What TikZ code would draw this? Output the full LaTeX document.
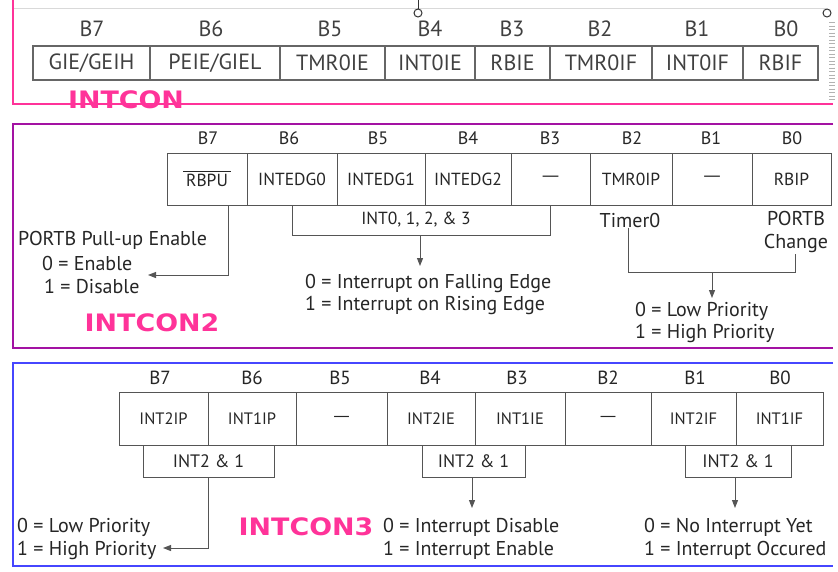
\documentclass[tikz,border=0pt]{standalone}
\usepackage{fontspec}
\setmainfont{PT Sans}
\newfontfamily\labf{DejaVu Sans}[FakeStretch=1.12]
\newfontfamily\dashf{DejaVu Sans}
\usetikzlibrary{arrows.meta}
\definecolor{pinkc}{HTML}{FF3399}
\definecolor{purpc}{HTML}{A312A3}
\definecolor{bluec}{HTML}{4646FF}
\definecolor{linec}{HTML}{555555}
\newcommand{\emd}{{\dashf —}}
\newcommand{\ovl}[1]{\leavevmode\vbox{\hrule height 0.9pt\kern 2.5pt\hbox{#1}}}
\tikzset{
  frameA/.style={draw=pinkc,line width=2pt},
  frameB/.style={draw=purpc,line width=2pt},
  frameC/.style={draw=bluec,line width=2pt},
  hdrA/.style={font=\fontsize{22}{24}\selectfont,text=black!75},
  cellA/.style={draw=black!60,line width=1.4pt,inner sep=0pt,font=\fontsize{22}{24}\selectfont,text=black!75},
  hdr/.style={font=\fontsize{18}{20}\selectfont,text=black!85},
  cell/.style={draw=linec,line width=1pt,inner sep=0pt,font=\fontsize{17.5}{19}\selectfont,text=black!85},
  desc/.style={font=\fontsize{20}{22}\selectfont,text=black!85,inner sep=0pt,anchor=west},
  reglab/.style={font=\labf\bfseries\fontsize{24}{26}\selectfont,text=pinkc,inner sep=0pt},
  conn/.style={draw=linec,line width=1pt},
  arr/.style={conn,-{Triangle[length=8pt,width=6pt]}},
  handle/.style={draw=black!80,fill=white,line width=1pt}
}
\begin{document}
\begin{tikzpicture}[x=1pt,y=-1pt]
\useasboundingbox[fill=white] (0,0) rectangle (838,571);
% ---------------- INTCON ----------------
\draw[black!15,line width=1pt] (13,8) -- (826,8);
\draw[black!30,line width=6pt,dash pattern=on 1pt off 2.5pt] (832,22) -- (832,100);
\draw[frameA] (13,0) -- (13,104) -- (833,104);
\draw[black!80,line width=1pt] (418,0) -- (418,9);
\node[handle,circle,minimum size=8pt,inner sep=0pt] (h1) at (418,13) {};
\node[handle,circle,minimum size=8pt,inner sep=0pt] (h2) at (827,13) {};
\foreach \n/\x in {7/92,6/211,5/330,4/430,3/512,2/600,1/697,0/786}
  \node[hdrA] (a\n) at (\x,29) {B\n};
\node[cellA,minimum width=117pt,minimum height=34pt] (ca7) at (91.5,63) {GIE/GEIH};
\node[cellA,minimum width=130pt,minimum height=34pt] (ca6) at (215,63) {PEIE/GIEL};
\node[cellA,minimum width=105pt,minimum height=34pt] (ca5) at (332.5,63) {TMR0IE};
\node[cellA,minimum width=90pt,minimum height=34pt] (ca4) at (430,63) {INT0IE};
\node[cellA,minimum width=75pt,minimum height=34pt] (ca3) at (512.5,63) {RBIE};
\node[cellA,minimum width=102pt,minimum height=34pt] (ca2) at (601,63) {TMR0IF};
\node[cellA,minimum width=91pt,minimum height=34pt] (ca1) at (697.5,63) {INT0IF};
\node[cellA,minimum width=75pt,minimum height=34pt] (ca0) at (780.5,63) {RBIF};
\node[reglab] (l1) at (126,100) {INTCON};
% ---------------- INTCON2 ----------------
\draw[frameB] (833,124) -- (13,124) -- (13,348) -- (833,348);
\foreach \n/\x in {7/208,6/289,5/378,4/468,3/550,2/632,1/711,0/792}
  \node[hdr] (b\n) at (\x,138) {B\n};
\node[cell,minimum width=80pt,minimum height=52pt] (cb7) at (207,179) {\ovl{\,RBPU\,}};
\node[cell,minimum width=90pt,minimum height=52pt] (cb6) at (292,179) {INTEDG0};
\node[cell,minimum width=88pt,minimum height=52pt] (cb5) at (381,179) {INTEDG1};
\node[cell,minimum width=86pt,minimum height=52pt] (cb4) at (468,179) {INTEDG2};
\node[cell,minimum width=79pt,minimum height=52pt] (cb3) at (550.5,179) {\emd};
\node[cell,minimum width=82pt,minimum height=52pt] (cb2) at (631,179) {TMR0IP};
\node[cell,minimum width=80pt,minimum height=52pt] (cb1) at (712,179) {\emd};
\node[cell,minimum width=79pt,minimum height=52pt] (cb0) at (791.5,179) {RBIP};
% RBPU
\coordinate (rb) at (228,205);
\coordinate (rbt) at (148,275);
\draw[arr] (rb) |- (rbt);
\node[desc] (d1) at (18,240) {PORTB Pull-up Enable};
\node[desc] (d2) at (42,263) {0 = Enable};
\node[desc] (d3) at (44,286) {1 = Disable};
% INTEDG bracket
\coordinate (eb) at (292,235);
\coordinate (ee) at (550.5,235);
\draw[conn] (cb6.south) -- (eb) -- (ee) -- (cb3.south);
\node[font=\fontsize{17.5}{19}\selectfont,text=black!85] (il) at (416,220) {INT0, 1, 2, \& 3};
\coordinate (ea) at (420,235);
\coordinate (eat) at (420,266);
\draw[arr] (ea) -- (eat);
\node[desc] (d4) at (305,283) {0 = Interrupt on Falling Edge};
\node[desc] (d5) at (305,305) {1 = Interrupt on Rising Edge};
% priority
\node[font=\fontsize{20}{22}\selectfont,text=black!85,inner sep=1pt] (t0) at (630,220) {Timer0};
\node[font=\fontsize{20}{23}\selectfont,text=black!85,align=center,inner sep=1pt] (pb) at (796,232) {PORTB\\Change};
\coordinate (pl) at (628,272);
\coordinate (pr) at (795,272);
\draw[conn] (t0.south -| pl) -- (pl) -- (pr) -- (pb.south -| pr);
\coordinate (pa) at (712,272);
\coordinate (pat) at (712,298);
\draw[arr] (pa) -- (pat);
\node[desc] (d6) at (635,311) {0 = Low Priority};
\node[desc] (d7) at (635,333) {1 = High Priority};
\node[reglab] (l2) at (152,323) {INTCON2};
% ---------------- INTCON3 ----------------
\draw[frameC] (833,363) -- (13,363) -- (13,566) -- (833,566);
\foreach \n/\x in {7/160,6/252,5/340,4/430,3/517,2/608,1/695,0/780}
  \node[hdr,font=\fontsize{19}{21}\selectfont] (c\n) at (\x,378) {B\n};
\tikzset{cellc/.style={cell,font=\fontsize{16.5}{18}\selectfont,minimum height=53pt}}
\node[cellc,minimum width=89pt] (cc7) at (163.5,418.5) {INT2IP};
\node[cellc,minimum width=88pt] (cc6) at (252,418.5) {INT1IP};
\node[cellc,minimum width=91pt] (cc5) at (341.5,418.5) {\emd};
\node[cellc,minimum width=88pt] (cc4) at (431,418.5) {INT2IE};
\node[cellc,minimum width=90pt] (cc3) at (520,418.5) {INT1IE};
\node[cellc,minimum width=86pt] (cc2) at (608,418.5) {\emd};
\node[cellc,minimum width=85pt] (cc1) at (693.5,418.5) {INT2IF};
\node[cellc,minimum width=87pt] (cc0) at (779.5,418.5) {INT1IF};
\node[cell,font=\fontsize{18}{20}\selectfont,minimum width=131pt,minimum height=32pt] (s1) at (208.5,461) {INT2 \& 1};
\node[cell,font=\fontsize{18}{20}\selectfont,minimum width=103pt,minimum height=32pt] (s2) at (473.5,461) {INT2 \& 1};
\node[cell,font=\fontsize{18}{20}\selectfont,minimum width=106pt,minimum height=32pt] (s3) at (738,461) {INT2 \& 1};
\coordinate (s1t) at (163,548);
\draw[arr] (s1.south) |- (s1t);
\coordinate (s2b) at (472,477);
\coordinate (s2t) at (472,508);
\draw[arr] (s2b) -- (s2t);
\coordinate (s3b) at (735,477);
\coordinate (s3t) at (735,508);
\draw[arr] (s3b) -- (s3t);
\node[desc] (e1) at (17,527) {0 = Low Priority};
\node[desc] (e2) at (17,550) {1 = High Priority};
\node[reglab] (l3) at (306,527) {INTCON3};
\node[desc] (e3) at (383,527) {0 = Interrupt Disable};
\node[desc] (e4) at (383,550) {1 = Interrupt Enable};
\node[desc] (e5) at (644,527) {0 = No Interrupt Yet};
\node[desc] (e6) at (644,550) {1 = Interrupt Occured};
\end{tikzpicture}
\end{document}
